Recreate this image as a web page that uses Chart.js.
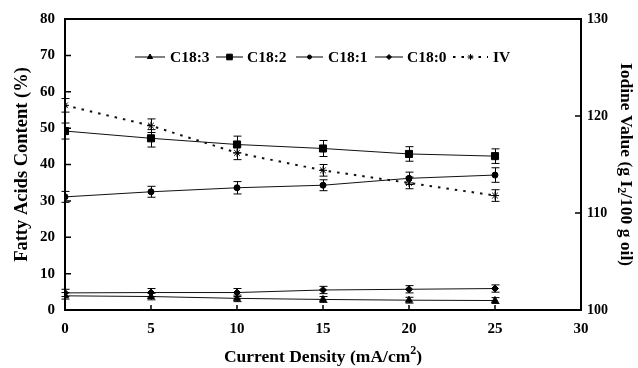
<!DOCTYPE html>
<html>
<head>
<meta charset="utf-8">
<script src="https://cdn.jsdelivr.net/npm/chart.js@4/dist/chart.umd.min.js"></script>
<style>
  html, body { margin: 0; padding: 0; background: #fff; }
  #wrap { width: 638px; height: 368px; }
</style>
</head>
<body>
<div id="wrap"><canvas id="chart" width="638" height="368"></canvas></div>
<script>
// Data
const density = [0, 5, 10, 15, 20, 25];
const c183 = [3.9, 3.7, 3.2, 2.9, 2.7, 2.6];
const c182 = [49.2, 47.2, 45.5, 44.4, 42.9, 42.3];
const c181 = [31.1, 32.5, 33.6, 34.3, 36.2, 37.1];
const c180 = [4.7, 4.8, 4.8, 5.5, 5.7, 5.9];
const iodine = [121.1, 119.0, 116.2, 114.4, 113.1, 111.8];

// error bar half-widths
const c183Err = [0.9, 0.9, 0.9, 0.8, 0.8, 0.8];
const c182Err = [2.2, 2.4, 2.3, 2.2, 2.0, 2.0];
const c181Err = [1.5, 1.5, 1.7, 1.5, 1.7, 2.0];
const c180Err = [1.0, 1.1, 1.1, 1.0, 1.0, 1.0];
const iodineErr = [0.7, 0.7, 0.7, 0.6, 0.6, 0.6];

const xTicks = [0, 5, 10, 15, 20, 25, 30];
const leftTicks = [0, 10, 20, 30, 40, 50, 60, 70, 80];
const rightTicks = [100, 110, 120, 130];

const serif = '"Liberation Serif", "Times New Roman", serif';

function pts(ys) {
    return density.map((x, i) => ({ x: x, y: ys[i] }));
}

function series(label, ys, errs, style, radius, axis, dash) {
    return {
        label: label,
        data: pts(ys),
        errors: errs,
        yAxisID: axis || 'y',
        borderColor: '#111',
        borderWidth: dash ? 2 : 1,
        borderDash: dash || [],
        backgroundColor: '#000',
        pointStyle: style,
        pointRadius: radius,
        pointBorderWidth: 1,
        pointBorderColor: '#000',
        pointBackgroundColor: '#000',
        tension: 0,
        fill: false
    };
}

// vertical error bars with caps
const errorBars = {
    id: 'errorBars',
    afterDatasetsDraw(chart) {
        const ctx = chart.ctx;
        ctx.save();
        ctx.strokeStyle = '#000';
        ctx.lineWidth = 1;
        chart.data.datasets.forEach((ds, di) => {
            const meta = chart.getDatasetMeta(di);
            const yScale = chart.scales[ds.yAxisID];
            meta.data.forEach((p, i) => {
                const v = ds.data[i].y, e = ds.errors[i];
                const x = Math.round(p.x) + 0.5;
                const y1 = yScale.getPixelForValue(v + e);
                const y2 = yScale.getPixelForValue(v - e);
                ctx.beginPath();
                ctx.moveTo(x, y1); ctx.lineTo(x, y2);
                ctx.moveTo(x - 4, y1); ctx.lineTo(x + 4, y1);
                ctx.moveTo(x - 4, y2); ctx.lineTo(x + 4, y2);
                ctx.stroke();
            });
        });
        ctx.restore();
    }
};

// box top line, inward ticks, axis titles and legend
const decorations = {
    id: 'decorations',
    afterDraw(chart) {
        const ctx = chart.ctx;
        const a = chart.chartArea;
        const sx = chart.scales.x, sy = chart.scales.y, sy1 = chart.scales.y1;
        ctx.save();
        ctx.strokeStyle = '#000';
        ctx.lineWidth = 2;
        ctx.beginPath();
        ctx.moveTo(a.left, a.top); ctx.lineTo(a.right, a.top);
        ctx.stroke();

        ctx.lineWidth = 1.5;
        ctx.beginPath();
        xTicks.forEach(t => {
            const x = sx.getPixelForValue(t);
            ctx.moveTo(x, a.bottom); ctx.lineTo(x, a.bottom - 5);
        });
        leftTicks.forEach(t => {
            const y = sy.getPixelForValue(t);
            ctx.moveTo(a.left, y); ctx.lineTo(a.left + 6, y);
        });
        rightTicks.forEach(t => {
            const y = sy1.getPixelForValue(t);
            ctx.moveTo(a.right, y); ctx.lineTo(a.right - 6, y);
        });
        ctx.stroke();

        ctx.fillStyle = '#000';
        ctx.textBaseline = 'middle';
        const big = 'bold 17.5px ' + serif;
        const small = 'bold 12px ' + serif;

        // x title with superscript
        ctx.font = big;
        const xa = 'Current Density (mA/cm', xc = ')';
        const wa = ctx.measureText(xa).width, wc = ctx.measureText(xc).width;
        ctx.font = small;
        const wb = ctx.measureText('2').width;
        let x0 = (a.left + a.right) / 2 - (wa + wb + wc) / 2;
        const yT = 357;
        ctx.font = big; ctx.textAlign = 'left';
        ctx.fillText(xa, x0, yT);
        ctx.font = small; ctx.fillText('2', x0 + wa, yT - 6);
        ctx.font = big; ctx.fillText(xc, x0 + wa + wb, yT);

        // left title
        ctx.save();
        ctx.translate(22, (a.top + a.bottom) / 2);
        ctx.rotate(-Math.PI / 2);
        ctx.textAlign = 'center';
        ctx.font = 'bold 18.5px ' + serif;
        ctx.fillText('Fatty Acids Content (%)', 0, 0);
        ctx.restore();

        // right title with subscript
        ctx.save();
        ctx.translate(626, (a.top + a.bottom) / 2);
        ctx.rotate(Math.PI / 2);
        ctx.textAlign = 'left';
        ctx.font = big;
        const ra = 'Iodine Value (g I', rc = '/100 g oil)';
        const rwa = ctx.measureText(ra).width, rwc = ctx.measureText(rc).width;
        ctx.font = small;
        const rwb = ctx.measureText('2').width;
        let r0 = -(rwa + rwb + rwc) / 2;
        ctx.font = big; ctx.fillText(ra, r0, 0);
        ctx.font = small; ctx.fillText('2', r0 + rwa, 5);
        ctx.font = big; ctx.fillText(rc, r0 + rwa + rwb, 0);
        ctx.restore();

        // legend
        const ly = 57;
        const items = [
            { ds: 0, x1: 135, x2: 165, tx: 170 },
            { ds: 1, x1: 216, x2: 243, tx: 247 },
            { ds: 2, x1: 296, x2: 323, tx: 328 },
            { ds: 3, x1: 375, x2: 403, tx: 407 },
            { ds: 4, x1: 453, x2: 488, tx: 493 }
        ];
        items.forEach(it => {
            const ds = chart.data.datasets[it.ds];
            ctx.save();
            ctx.strokeStyle = '#000';
            ctx.lineWidth = ds.borderWidth;
            ctx.setLineDash(ds.borderDash);
            ctx.beginPath();
            ctx.moveTo(it.x1, ly); ctx.lineTo(it.x2, ly);
            ctx.stroke();
            ctx.restore();
            ctx.save();
            ctx.lineWidth = 1;
            Chart.helpers.drawPoint(ctx, {
                pointStyle: ds.pointStyle,
                radius: ds.pointRadius - 1,
                borderWidth: 1,
                rotation: 0
            }, (it.x1 + it.x2) / 2, ly);
            ctx.restore();
            ctx.font = 'bold 15.5px ' + serif;
            ctx.textAlign = 'left';
            ctx.fillText(ds.label, it.tx, ly + 1);
        });
        ctx.restore();
    }
};

const tickFont = { family: serif, size: 15, weight: 'bold' };

new Chart(document.getElementById('chart').getContext('2d'), {
    type: 'line',
    data: {
        datasets: [
            series('C18:3', c183, c183Err, 'triangle', 4),
            series('C18:2', c182, c182Err, 'rect', 5),
            series('C18:1', c181, c181Err, 'circle', 3),
            series('C18:0', c180, c180Err, 'rectRot', 3.5),
            series('IV', iodine, iodineErr, 'star', 4, 'y1', [2.5, 6])
        ]
    },
    options: {
        responsive: false,
        animation: false,
        layout: { padding: { top: 19, left: 0, right: 0, bottom: 0 } },
        plugins: {
            legend: { display: false },
            tooltip: { enabled: false }
        },
        scales: {
            x: {
                type: 'linear',
                min: 0, max: 30,
                ticks: { stepSize: 5, color: '#000', font: tickFont, padding: 10, maxRotation: 0 },
                grid: { display: false, drawTicks: false },
                border: { display: true, color: '#000', width: 2 },
                afterFit(s) { s.height = 58; }
            },
            y: {
                position: 'left',
                min: 0, max: 80,
                ticks: { stepSize: 10, color: '#000', font: tickFont, padding: 10 },
                grid: { display: false, drawTicks: false },
                border: { display: true, color: '#000', width: 2 },
                afterFit(s) { s.width = 65; }
            },
            y1: {
                position: 'right',
                min: 100, max: 130,
                ticks: { stepSize: 10, color: '#000', font: { family: serif, size: 14, weight: 'bold' }, padding: 6 },
                grid: { display: false, drawTicks: false },
                border: { display: true, color: '#000', width: 2 },
                afterFit(s) { s.width = 57; }
            }
        }
    },
    plugins: [errorBars, decorations]
});
</script>
</body>
</html>
